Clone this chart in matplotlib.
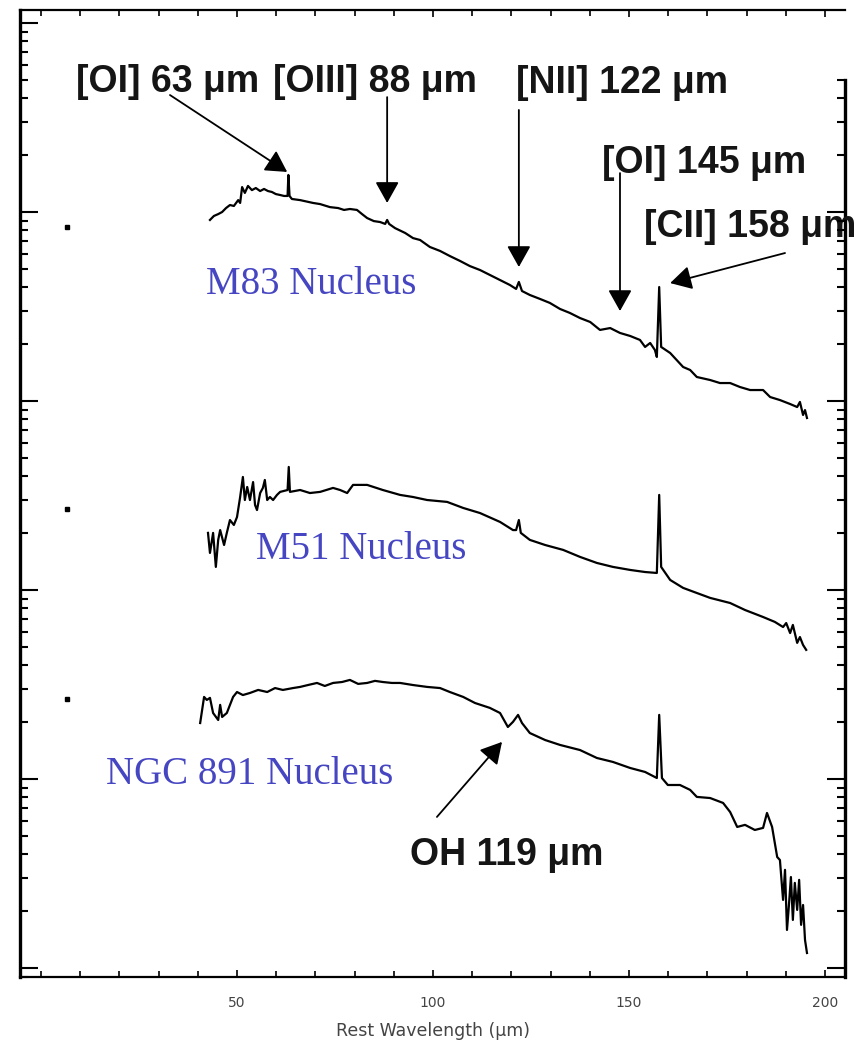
import matplotlib
matplotlib.use("Agg")
import matplotlib.pyplot as plt
import numpy as np
from matplotlib.ticker import FixedLocator, MultipleLocator, NullFormatter

# wavelength (micron) and log10 flux
m83_wave = [43.1, 44.1, 45.2, 46.2, 47.2, 48.2, 49.2, 50.3, 50.8, 51.3, 52.0, 52.8, 53.8, 54.8,
            55.9, 56.9, 57.9, 58.9, 59.9, 61.0, 62.0, 62.9, 63.1, 63.4, 64.0, 66.1, 69.4, 71.2,
            73.7, 75.8, 77.3, 78.8, 80.6, 81.9, 83.2, 84.9, 86.5, 87.8, 88.3, 88.8, 90.3, 92.9,
            94.9, 96.7, 99.2, 101.8, 104.3, 106.9, 109.4, 112.0, 114.5, 117.1, 119.6, 121.2,
            121.9, 122.7, 124.7, 127.3, 129.8, 132.4, 134.9, 137.5, 140.1, 142.6, 145.2, 147.7,
            150.3, 152.8, 154.1, 155.4, 156.6, 157.1, 157.7, 158.2, 160.5, 163.8, 165.6, 167.3,
            170.7, 173.2, 175.8, 178.3, 180.9, 184.2, 186.0, 188.5, 191.1, 192.9, 193.6, 194.4,
            194.9, 195.4]
m83_logf = [3.958, 3.979, 3.989, 4.000, 4.021, 4.037, 4.032, 4.063, 4.048, 4.132, 4.101, 4.138,
            4.116, 4.127, 4.111, 4.122, 4.111, 4.106, 4.095, 4.090, 4.085, 4.085, 4.196, 4.085,
            4.069, 4.063, 4.048, 4.042, 4.026, 4.021, 4.011, 4.016, 4.011, 3.989, 3.968, 3.952,
            3.947, 3.937, 3.958, 3.937, 3.915, 3.889, 3.862, 3.852, 3.815, 3.794, 3.767, 3.741,
            3.714, 3.693, 3.667, 3.640, 3.614, 3.593, 3.630, 3.582, 3.561, 3.540, 3.519, 3.487,
            3.466, 3.439, 3.418, 3.376, 3.386, 3.360, 3.344, 3.323, 3.286, 3.307, 3.270, 3.233,
            3.603, 3.286, 3.254, 3.180, 3.164, 3.127, 3.111, 3.095, 3.095, 3.074, 3.058, 3.058,
            3.021, 3.005, 2.984, 2.968, 2.995, 2.926, 2.952, 2.910]

m51_wave = [42.6, 43.1, 43.9, 44.6, 45.2, 45.7, 46.7, 47.4, 48.2, 49.2, 50.0, 50.8, 51.5, 52.0,
            52.6, 53.3, 54.1, 54.6, 55.1, 55.9, 56.6, 57.1, 57.7, 58.4, 59.2, 60.2, 61.0, 62.9,
            63.2, 63.5, 66.1, 68.6, 71.2, 74.5, 76.3, 78.1, 79.6, 83.2, 87.2, 91.6, 94.9, 98.5,
            103.6, 107.7, 112.0, 117.1, 120.4, 121.2, 121.9, 122.4, 124.7, 128.6, 133.2, 137.5,
            141.8, 145.9, 150.3, 154.1, 157.1, 157.7, 158.2, 160.5, 163.8, 167.3, 170.7, 175.8,
            179.6, 184.2, 187.2, 189.3, 190.1, 191.1, 191.8, 192.9, 193.6, 194.4, 195.2]
m51_logf = [2.302, 2.196, 2.302, 2.122, 2.265, 2.317, 2.238, 2.302, 2.370, 2.344, 2.386, 2.492,
            2.598, 2.476, 2.545, 2.476, 2.571, 2.450, 2.423, 2.513, 2.540, 2.582, 2.476, 2.492,
            2.476, 2.503, 2.519, 2.529, 2.651, 2.519, 2.529, 2.513, 2.519, 2.540, 2.529, 2.513,
            2.556, 2.556, 2.529, 2.503, 2.492, 2.476, 2.466, 2.434, 2.407, 2.360, 2.317, 2.317,
            2.370, 2.302, 2.265, 2.238, 2.212, 2.175, 2.143, 2.122, 2.106, 2.095, 2.090, 2.503,
            2.122, 2.053, 2.011, 1.984, 1.958, 1.931, 1.894, 1.857, 1.831, 1.804, 1.825, 1.772,
            1.815, 1.720, 1.751, 1.709, 1.683]

ngc_wave = [40.6, 41.1, 41.6, 42.3, 43.1, 43.9, 45.2, 45.7, 46.2, 47.4, 49.0, 50.0, 51.5, 53.3,
            55.4, 57.7, 59.7, 61.7, 64.3, 66.1, 68.1, 70.4, 72.4, 74.5, 76.8, 78.8, 80.9, 83.2,
            85.2, 87.2, 89.5, 91.6, 94.9, 98.5, 101.8, 104.3, 107.7, 110.7, 114.5, 117.1, 119.1,
            120.4, 121.7, 122.7, 124.7, 128.6, 132.4, 137.5, 141.8, 145.9, 150.3, 154.1, 157.1,
            157.7, 158.4, 159.9, 163.0, 165.6, 167.3, 170.7, 174.0, 175.8, 177.6, 179.6, 182.1,
            184.2, 185.2, 186.5, 187.8, 188.5, 189.3, 189.8, 190.3, 190.8, 191.3, 191.8, 192.3,
            192.9, 193.4, 193.9, 194.4, 194.9, 195.4]
ngc_logf = [1.296, 1.365, 1.434, 1.418, 1.429, 1.349, 1.312, 1.392, 1.328, 1.349, 1.434, 1.460,
            1.444, 1.455, 1.471, 1.460, 1.481, 1.471, 1.481, 1.487, 1.497, 1.508, 1.492, 1.508,
            1.513, 1.524, 1.503, 1.508, 1.519, 1.513, 1.508, 1.508, 1.497, 1.487, 1.481, 1.460,
            1.434, 1.402, 1.376, 1.349, 1.275, 1.302, 1.339, 1.296, 1.243, 1.206, 1.180, 1.153,
            1.111, 1.090, 1.058, 1.037, 1.005, 1.339, 1.005, 0.968, 0.968, 0.942, 0.905, 0.899,
            0.873, 0.825, 0.746, 0.757, 0.730, 0.741, 0.820, 0.746, 0.587, 0.571, 0.360, 0.519,
            0.201, 0.333, 0.481, 0.254, 0.450, 0.307, 0.466, 0.228, 0.333, 0.148, 0.079]

# little reference dots on the left
dot_wave = [6.6, 6.6, 6.6]
dot_logf = [3.921, 2.429, 1.423]

spectra = [("M83 Nucleus", m83_wave, m83_logf, 68.9, 3.614),
           ("M51 Nucleus", m51_wave, m51_logf, 81.8, 2.212),
           ("NGC 891 Nucleus", ngc_wave, ngc_logf, 53.3, 1.021)]

# label text, text position (x, log y), arrow tail, arrow tip
lines = [("[OI] 63 \u03bcm", (32.4, 4.688), (32.9, 4.619), (62.8, 4.212)),
         ("[OIII] 88 \u03bcm", (85.2, 4.688), (88.3, 4.608), (88.3, 4.048)),
         ("[NII] 122 \u03bcm", (148.2, 4.683), (121.9, 4.540), (121.9, 3.709)),
         ("[OI] 145 \u03bcm", (169.1, 4.259), (147.7, 4.206), (147.7, 3.476)),
         ("[CII] 158 \u03bcm", (180.9, 3.921), (189.8, 3.783), (160.5, 3.624)),
         ("OH 119 \u03bcm", (118.9, 0.598), (101.0, 0.799), (117.6, 1.196))]

fig = plt.figure(figsize=(8.58, 10.43), dpi=100)
ax = fig.add_axes([20/858, 1 - 977/1043, 825/858, 967/1043])
ax.set_yscale('log')

for name, w, lf, tx, ty in spectra:
    ax.plot(w, 10 ** np.array(lf), color='black', lw=1.6)
    ax.text(tx, 10 ** ty, name, color='#4646c2', fontsize=28, family='Liberation Serif',
            ha='center', va='center')

ax.plot(dot_wave, 10 ** np.array(dot_logf), 's', color='black', ms=2.5)

for label, tpos, tail, tip in lines:
    ax.text(tpos[0], 10 ** tpos[1], label, fontsize=27, family='Liberation Sans',
            fontweight='bold', color='#151515', ha='center', va='center')
    ax.annotate('', xy=(tip[0], 10 ** tip[1]), xytext=(tail[0], 10 ** tail[1]),
                arrowprops=dict(arrowstyle='-|>,head_length=0.5,head_width=0.28',
                                color='black', lw=1.3, mutation_scale=26,
                                shrinkA=0, shrinkB=0))

ylo, yhi = 10 ** -0.048, 10 ** 5.069
ax.set_xlim(-5.36, 205.1)
ax.set_ylim(ylo, yhi)

ax.xaxis.set_major_locator(FixedLocator([50, 100, 150, 200]))
ax.xaxis.set_minor_locator(MultipleLocator(10))
ax.yaxis.set_major_formatter(NullFormatter())
ax.yaxis.set_minor_formatter(NullFormatter())
ax.tick_params(axis='x', which='both', direction='in', top=True, labelsize=10,
               labelcolor='#444444', pad=14)
ax.tick_params(axis='x', which='major', length=5, width=1.2)
ax.tick_params(axis='x', which='minor', length=4, width=1.2)
ax.tick_params(axis='y', which='both', direction='in', left=True, right=False)
ax.tick_params(axis='y', which='major', length=13, width=1.5)
ax.tick_params(axis='y', which='minor', length=6, width=1.5)
ax.set_xlabel('Rest Wavelength (\u03bcm)', fontsize=12.5, color='#444444', labelpad=8)

for side in ['left', 'right']:
    ax.spines[side].set_linewidth(2.4)
for side in ['top', 'bottom']:
    ax.spines[side].set_linewidth(1.6)
ax.spines['right'].set_bounds(ylo, 5e4)

# right-hand ticks only where the right frame is drawn
ax2 = ax.twinx()
ax2.set_yscale('log')
ax2.set_ylim(ylo, yhi)
for s in ax2.spines.values():
    s.set_visible(False)
minor_right = []
for k in range(5):
    for m in range(2, 10):
        if m * 10 ** k <= 5e4:
            minor_right.append(m * 10 ** k)
ax2.yaxis.set_major_locator(FixedLocator([1, 10, 100, 1000, 10000]))
ax2.yaxis.set_minor_locator(FixedLocator(minor_right))
ax2.yaxis.set_major_formatter(NullFormatter())
ax2.yaxis.set_minor_formatter(NullFormatter())
ax2.tick_params(axis='y', which='both', direction='in', right=True, left=False)
ax2.tick_params(axis='y', which='major', length=13, width=1.5)
ax2.tick_params(axis='y', which='minor', length=6, width=1.5)

fig.savefig('out.png', dpi=100)
